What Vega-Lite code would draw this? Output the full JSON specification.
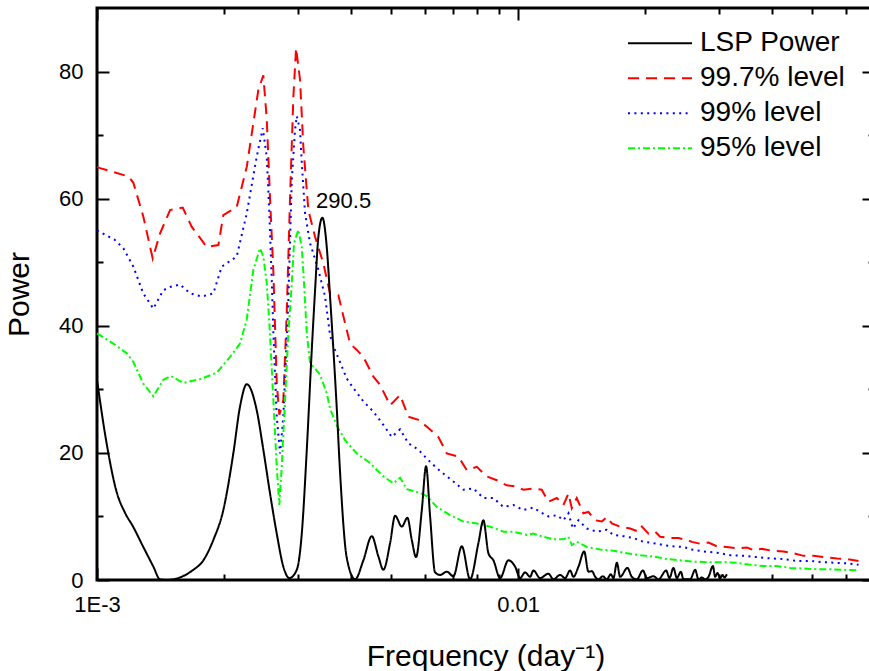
{
"$schema": "https://vega.github.io/schema/vega-lite/v6.json",
"width": 777, "height": 572,
"autosize": {"type": "none"},
"padding": {"left": 97, "top": 8, "right": -5, "bottom": 91},
"background": "white",
"config": {
  "font": "Liberation Sans",
  "view": {"stroke": "black", "strokeWidth": 3},
  "axis": {"grid": false, "domain": false, "zindex": 1, "tickColor": "black", "tickWidth": 2, "labelColor": "black", "titleColor": "black", "labelFont": "Liberation Sans", "titleFont": "Liberation Sans", "titleFontWeight": "normal", "labelOverlap": false, "labelFlush": false},
  "text": {"font": "Liberation Sans"}
},
"data": {"values": [
{"series":"LSP Power","freq":0.001,"power":31.5},
{"series":"LSP Power","freq":0.001054,"power":21.5},
{"series":"LSP Power","freq":0.001114,"power":13.8},
{"series":"LSP Power","freq":0.001165,"power":10.6},
{"series":"LSP Power","freq":0.001218,"power":8.4},
{"series":"LSP Power","freq":0.001288,"power":5.2},
{"series":"LSP Power","freq":0.001361,"power":2.1},
{"series":"LSP Power","freq":0.001411,"power":0.1},
{"series":"LSP Power","freq":0.001464,"power":0},
{"series":"LSP Power","freq":0.001693,"power":1.6},
{"series":"LSP Power","freq":0.001789,"power":3.1},
{"series":"LSP Power","freq":0.001889,"power":6.3},
{"series":"LSP Power","freq":0.001995,"power":11.0},
{"series":"LSP Power","freq":0.002107,"power":19.9},
{"series":"LSP Power","freq":0.002186,"power":27.3},
{"series":"LSP Power","freq":0.002268,"power":30.8},
{"series":"LSP Power","freq":0.002395,"power":26.7},
{"series":"LSP Power","freq":0.002483,"power":20.5},
{"series":"LSP Power","freq":0.002576,"power":13.6},
{"series":"LSP Power","freq":0.002672,"power":7.3},
{"series":"LSP Power","freq":0.00277,"power":2.1},
{"series":"LSP Power","freq":0.002863,"power":0.3},
{"series":"LSP Power","freq":0.002981,"power":1.6},
{"series":"LSP Power","freq":0.003064,"power":7.3},
{"series":"LSP Power","freq":0.003149,"power":20.5},
{"series":"LSP Power","freq":0.003236,"power":36.2},
{"series":"LSP Power","freq":0.003295,"power":45.6},
{"series":"LSP Power","freq":0.003355,"power":54.0},
{"series":"LSP Power","freq":0.003429,"power":57.0},
{"series":"LSP Power","freq":0.003512,"power":52.4},
{"series":"LSP Power","freq":0.003576,"power":44.6},
{"series":"LSP Power","freq":0.00371,"power":27.0},
{"series":"LSP Power","freq":0.003777,"power":17.0},
{"series":"LSP Power","freq":0.003918,"power":3.5},
{"series":"LSP Power","freq":0.004101,"power":0.1},
{"series":"LSP Power","freq":0.004291,"power":3.1},
{"series":"LSP Power","freq":0.004493,"power":6.9},
{"series":"LSP Power","freq":0.004658,"power":3.7},
{"series":"LSP Power","freq":0.004787,"power":1.6},
{"series":"LSP Power","freq":0.004966,"power":5.8},
{"series":"LSP Power","freq":0.005103,"power":10.1},
{"series":"LSP Power","freq":0.005294,"power":8.4},
{"series":"LSP Power","freq":0.005459,"power":9.8},
{"series":"LSP Power","freq":0.005591,"power":6.3},
{"series":"LSP Power","freq":0.005724,"power":3.6},
{"series":"LSP Power","freq":0.005906,"power":11.0},
{"series":"LSP Power","freq":0.006046,"power":17.9},
{"series":"LSP Power","freq":0.00618,"power":10.0},
{"series":"LSP Power","freq":0.006351,"power":1.2},
{"series":"LSP Power","freq":0.006527,"power":0.8},
{"series":"LSP Power","freq":0.006771,"power":1.3},
{"series":"LSP Power","freq":0.00702,"power":0.6},
{"series":"LSP Power","freq":0.00735,"power":5.3},
{"series":"LSP Power","freq":0.007691,"power":0.1},
{"series":"LSP Power","freq":0.008048,"power":5.8},
{"series":"LSP Power","freq":0.008271,"power":9.4},
{"series":"LSP Power","freq":0.008501,"power":4.2},
{"series":"LSP Power","freq":0.008736,"power":3.1},
{"series":"LSP Power","freq":0.009062,"power":0.3},
{"series":"LSP Power","freq":0.009483,"power":3.1},
{"series":"LSP Power","freq":0.009837,"power":2.1},
{"series":"LSP Power","freq":0.01011,"power":0.3},
{"series":"LSP Power","freq":0.01039,"power":1.2},
{"series":"LSP Power","freq":0.01068,"power":0.5},
{"series":"LSP Power","freq":0.01087,"power":1.5},
{"series":"LSP Power","freq":0.01128,"power":0.3},
{"series":"LSP Power","freq":0.0118,"power":1.0},
{"series":"LSP Power","freq":0.01213,"power":0.1},
{"series":"LSP Power","freq":0.01258,"power":0.8},
{"series":"LSP Power","freq":0.01293,"power":0.3},
{"series":"LSP Power","freq":0.01329,"power":1.5},
{"series":"LSP Power","freq":0.01353,"power":0.5},
{"series":"LSP Power","freq":0.01391,"power":2.1},
{"series":"LSP Power","freq":0.01435,"power":4.5},
{"series":"LSP Power","freq":0.01469,"power":1.3},
{"series":"LSP Power","freq":0.01497,"power":1.4},
{"series":"LSP Power","freq":0.01524,"power":0.5},
{"series":"LSP Power","freq":0.01552,"power":0.1},
{"series":"LSP Power","freq":0.01589,"power":0.6},
{"series":"LSP Power","freq":0.01624,"power":0.1},
{"series":"LSP Power","freq":0.0166,"power":0.9},
{"series":"LSP Power","freq":0.01684,"power":0.3},
{"series":"LSP Power","freq":0.01716,"power":2.7},
{"series":"LSP Power","freq":0.01747,"power":0.5},
{"series":"LSP Power","freq":0.01818,"power":1.9},
{"series":"LSP Power","freq":0.01862,"power":0.5},
{"series":"LSP Power","freq":0.01914,"power":0.1},
{"series":"LSP Power","freq":0.01978,"power":1.5},
{"series":"LSP Power","freq":0.02022,"power":0.3},
{"series":"LSP Power","freq":0.02096,"power":0.6},
{"series":"LSP Power","freq":0.02154,"power":0.1},
{"series":"LSP Power","freq":0.02247,"power":1.5},
{"series":"LSP Power","freq":0.02288,"power":0.3},
{"series":"LSP Power","freq":0.02338,"power":1.9},
{"series":"LSP Power","freq":0.02382,"power":0.3},
{"series":"LSP Power","freq":0.02435,"power":1.3},
{"series":"LSP Power","freq":0.0247,"power":0.1},
{"series":"LSP Power","freq":0.02562,"power":0.1},
{"series":"LSP Power","freq":0.02633,"power":1.6},
{"series":"LSP Power","freq":0.02681,"power":0.1},
{"series":"LSP Power","freq":0.02731,"power":0.4},
{"series":"LSP Power","freq":0.02781,"power":0.1},
{"series":"LSP Power","freq":0.02832,"power":0.5},
{"series":"LSP Power","freq":0.02901,"power":2.2},
{"series":"LSP Power","freq":0.02937,"power":0.5},
{"series":"LSP Power","freq":0.02974,"power":1.1},
{"series":"LSP Power","freq":0.03019,"power":0.3},
{"series":"LSP Power","freq":0.03057,"power":0.8},
{"series":"LSP Power","freq":0.0309,"power":0.4},
{"series":"LSP Power","freq":0.03131,"power":0.9},
{"series":"99.7% level","freq":0.001,"power":65.0},
{"series":"99.7% level","freq":0.001017,"power":64.8},
{"series":"99.7% level","freq":0.001187,"power":63.5},
{"series":"99.7% level","freq":0.00122,"power":62.5},
{"series":"99.7% level","freq":0.001288,"power":57.2},
{"series":"99.7% level","freq":0.001356,"power":50.6},
{"series":"99.7% level","freq":0.001411,"power":54.5},
{"series":"99.7% level","freq":0.001491,"power":58.2},
{"series":"99.7% level","freq":0.001598,"power":58.6},
{"series":"99.7% level","freq":0.001678,"power":55.6},
{"series":"99.7% level","freq":0.001822,"power":52.4},
{"series":"99.7% level","freq":0.001942,"power":52.7},
{"series":"99.7% level","freq":0.001995,"power":57.4},
{"series":"99.7% level","freq":0.002147,"power":58.7},
{"series":"99.7% level","freq":0.002268,"power":65.0},
{"series":"99.7% level","freq":0.002416,"power":77.1},
{"series":"99.7% level","freq":0.002483,"power":79.4},
{"series":"99.7% level","freq":0.00253,"power":72.5},
{"series":"99.7% level","freq":0.002576,"power":60.0},
{"series":"99.7% level","freq":0.002623,"power":48.5},
{"series":"99.7% level","freq":0.002672,"power":31.0},
{"series":"99.7% level","freq":0.00271,"power":26.0},
{"series":"99.7% level","freq":0.00277,"power":28.3},
{"series":"99.7% level","freq":0.002822,"power":42.0},
{"series":"99.7% level","freq":0.002874,"power":60.3},
{"series":"99.7% level","freq":0.002926,"power":76.0},
{"series":"99.7% level","freq":0.00297,"power":83.7},
{"series":"99.7% level","freq":0.003035,"power":78.7},
{"series":"99.7% level","freq":0.00309,"power":68.2},
{"series":"99.7% level","freq":0.003176,"power":58.2},
{"series":"99.7% level","freq":0.003295,"power":54.0},
{"series":"99.7% level","freq":0.003448,"power":49.8},
{"series":"99.7% level","freq":0.003576,"power":45.1},
{"series":"99.7% level","freq":0.003743,"power":44.8},
{"series":"99.7% level","freq":0.003882,"power":40.4},
{"series":"99.7% level","freq":0.00399,"power":37.2},
{"series":"99.7% level","freq":0.004139,"power":36.2},
{"series":"99.7% level","freq":0.004291,"power":35.1},
{"series":"99.7% level","freq":0.004532,"power":32.0},
{"series":"99.7% level","freq":0.004701,"power":30.7},
{"series":"99.7% level","freq":0.004966,"power":27.5},
{"series":"99.7% level","freq":0.005244,"power":29.1},
{"series":"99.7% level","freq":0.005488,"power":25.7},
{"series":"99.7% level","freq":0.005797,"power":25.2},
{"series":"99.7% level","freq":0.006123,"power":23.9},
{"series":"99.7% level","freq":0.006467,"power":22.5},
{"series":"99.7% level","freq":0.006771,"power":19.9},
{"series":"99.7% level","freq":0.007214,"power":19.4},
{"series":"99.7% level","freq":0.007553,"power":17.3},
{"series":"99.7% level","freq":0.007978,"power":17.8},
{"series":"99.7% level","freq":0.008427,"power":16.3},
{"series":"99.7% level","freq":0.0089,"power":15.7},
{"series":"99.7% level","freq":0.0094,"power":14.9},
{"series":"99.7% level","freq":0.009929,"power":14.7},
{"series":"99.7% level","freq":0.01029,"power":14.2},
{"series":"99.7% level","freq":0.01087,"power":14.4},
{"series":"99.7% level","freq":0.01138,"power":14.2},
{"series":"99.7% level","freq":0.0118,"power":12.3},
{"series":"99.7% level","freq":0.01236,"power":12.9},
{"series":"99.7% level","freq":0.01281,"power":11.8},
{"series":"99.7% level","freq":0.01317,"power":13.6},
{"series":"99.7% level","freq":0.01341,"power":11.3},
{"series":"99.7% level","freq":0.01378,"power":12.9},
{"series":"99.7% level","freq":0.01429,"power":10.5},
{"series":"99.7% level","freq":0.01469,"power":10.7},
{"series":"99.7% level","freq":0.01524,"power":9.4},
{"series":"99.7% level","freq":0.01581,"power":9.2},
{"series":"99.7% level","freq":0.01624,"power":9.9},
{"series":"99.7% level","freq":0.01669,"power":8.9},
{"series":"99.7% level","freq":0.01747,"power":8.4},
{"series":"99.7% level","freq":0.01845,"power":8.1},
{"series":"99.7% level","freq":0.01931,"power":7.6},
{"series":"99.7% level","freq":0.01967,"power":8.4},
{"series":"99.7% level","freq":0.0204,"power":7.3},
{"series":"99.7% level","freq":0.02116,"power":7.6},
{"series":"99.7% level","freq":0.02174,"power":6.8},
{"series":"99.7% level","freq":0.02296,"power":6.6},
{"series":"99.7% level","freq":0.02403,"power":6.6},
{"series":"99.7% level","freq":0.02516,"power":6.3},
{"series":"99.7% level","freq":0.02586,"power":6.0},
{"series":"99.7% level","freq":0.02706,"power":5.7},
{"series":"99.7% level","freq":0.02832,"power":5.9},
{"series":"99.7% level","freq":0.02965,"power":5.3},
{"series":"99.7% level","freq":0.03131,"power":5.2},
{"series":"99.7% level","freq":0.03308,"power":5.0},
{"series":"99.7% level","freq":0.03493,"power":5.1},
{"series":"99.7% level","freq":0.03622,"power":4.7},
{"series":"99.7% level","freq":0.03792,"power":4.9},
{"series":"99.7% level","freq":0.04005,"power":4.6},
{"series":"99.7% level","freq":0.04267,"power":4.5},
{"series":"99.7% level","freq":0.04507,"power":4.2},
{"series":"99.7% level","freq":0.04761,"power":3.8},
{"series":"99.7% level","freq":0.05028,"power":3.8},
{"series":"99.7% level","freq":0.05311,"power":3.6},
{"series":"99.7% level","freq":0.05715,"power":3.4},
{"series":"99.7% level","freq":0.06036,"power":3.3},
{"series":"99.7% level","freq":0.06432,"power":3.0},
{"series":"99% level","freq":0.001,"power":55.0},
{"series":"99% level","freq":0.001103,"power":53.5},
{"series":"99% level","freq":0.001155,"power":52.2},
{"series":"99% level","freq":0.00122,"power":49.3},
{"series":"99% level","freq":0.001288,"power":45.1},
{"series":"99% level","freq":0.001361,"power":42.7},
{"series":"99% level","freq":0.001437,"power":45.6},
{"series":"99% level","freq":0.001491,"power":46.1},
{"series":"99% level","freq":0.001575,"power":46.5},
{"series":"99% level","freq":0.001663,"power":45.1},
{"series":"99% level","freq":0.001773,"power":44.6},
{"series":"99% level","freq":0.001889,"power":45.1},
{"series":"99% level","freq":0.001978,"power":49.3},
{"series":"99% level","freq":0.002147,"power":50.9},
{"series":"99% level","freq":0.002268,"power":57.7},
{"series":"99% level","freq":0.002395,"power":66.6},
{"series":"99% level","freq":0.002475,"power":71.1},
{"series":"99% level","freq":0.00253,"power":66.6},
{"series":"99% level","freq":0.002566,"power":57.7},
{"series":"99% level","freq":0.0026,"power":47.2},
{"series":"99% level","freq":0.002623,"power":38.8},
{"series":"99% level","freq":0.002672,"power":25.7},
{"series":"99% level","freq":0.002721,"power":19.9},
{"series":"99% level","freq":0.00277,"power":25.7},
{"series":"99% level","freq":0.002847,"power":44.0},
{"series":"99% level","freq":0.002901,"power":62.9},
{"series":"99% level","freq":0.002953,"power":70.8},
{"series":"99% level","freq":0.002981,"power":73.0},
{"series":"99% level","freq":0.003035,"power":70.8},
{"series":"99% level","freq":0.003064,"power":65.6},
{"series":"99% level","freq":0.003119,"power":57.7},
{"series":"99% level","freq":0.003206,"power":53.0},
{"series":"99% level","freq":0.003355,"power":48.8},
{"series":"99% level","freq":0.00348,"power":44.6},
{"series":"99% level","freq":0.003576,"power":38.5},
{"series":"99% level","freq":0.003675,"power":36.2},
{"series":"99% level","freq":0.003813,"power":33.6},
{"series":"99% level","freq":0.003918,"power":31.7},
{"series":"99% level","freq":0.004062,"power":30.2},
{"series":"99% level","freq":0.004291,"power":28.1},
{"series":"99% level","freq":0.004532,"power":26.5},
{"series":"99% level","freq":0.004787,"power":24.4},
{"series":"99% level","freq":0.005012,"power":22.5},
{"series":"99% level","freq":0.005244,"power":23.7},
{"series":"99% level","freq":0.005488,"power":21.5},
{"series":"99% level","freq":0.005797,"power":20.5},
{"series":"99% level","freq":0.00607,"power":19.1},
{"series":"99% level","freq":0.006411,"power":17.6},
{"series":"99% level","freq":0.006771,"power":16.3},
{"series":"99% level","freq":0.00702,"power":15.5},
{"series":"99% level","freq":0.007415,"power":14.2},
{"series":"99% level","freq":0.007832,"power":14.4},
{"series":"99% level","freq":0.008271,"power":12.9},
{"series":"99% level","freq":0.008736,"power":12.9},
{"series":"99% level","freq":0.009228,"power":11.5},
{"series":"99% level","freq":0.009746,"power":11.8},
{"series":"99% level","freq":0.01029,"power":11.0},
{"series":"99% level","freq":0.01087,"power":11.4},
{"series":"99% level","freq":0.01128,"power":10.7},
{"series":"99% level","freq":0.0118,"power":10.0},
{"series":"99% level","freq":0.01236,"power":10.2},
{"series":"99% level","freq":0.01281,"power":9.4},
{"series":"99% level","freq":0.01317,"power":10.5},
{"series":"99% level","freq":0.01349,"power":8.1},
{"series":"99% level","freq":0.01391,"power":9.4},
{"series":"99% level","freq":0.01456,"power":8.1},
{"series":"99% level","freq":0.01538,"power":7.6},
{"series":"99% level","freq":0.01624,"power":7.9},
{"series":"99% level","freq":0.01684,"power":7.1},
{"series":"99% level","freq":0.01779,"power":6.9},
{"series":"99% level","freq":0.01879,"power":6.6},
{"series":"99% level","freq":0.01985,"power":6.0},
{"series":"99% level","freq":0.02096,"power":5.8},
{"series":"99% level","freq":0.02214,"power":5.5},
{"series":"99% level","freq":0.02338,"power":5.3},
{"series":"99% level","freq":0.0247,"power":5.2},
{"series":"99% level","freq":0.02586,"power":4.8},
{"series":"99% level","freq":0.02755,"power":4.5},
{"series":"99% level","freq":0.02965,"power":4.3},
{"series":"99% level","freq":0.03189,"power":3.9},
{"series":"99% level","freq":0.03429,"power":3.8},
{"series":"99% level","freq":0.0369,"power":3.6},
{"series":"99% level","freq":0.03968,"power":3.4},
{"series":"99% level","freq":0.04267,"power":3.3},
{"series":"99% level","freq":0.04592,"power":3.0},
{"series":"99% level","freq":0.04938,"power":3.0},
{"series":"99% level","freq":0.05311,"power":2.8},
{"series":"99% level","freq":0.05715,"power":2.7},
{"series":"99% level","freq":0.06089,"power":2.6},
{"series":"99% level","freq":0.06432,"power":2.4},
{"series":"95% level","freq":0.001,"power":38.8},
{"series":"95% level","freq":0.001093,"power":37.2},
{"series":"95% level","freq":0.001176,"power":35.7},
{"series":"95% level","freq":0.00122,"power":34.3},
{"series":"95% level","freq":0.001288,"power":30.9},
{"series":"95% level","freq":0.001361,"power":28.9},
{"series":"95% level","freq":0.001437,"power":31.5},
{"series":"95% level","freq":0.001497,"power":32.1},
{"series":"95% level","freq":0.001603,"power":31.0},
{"series":"95% level","freq":0.001756,"power":31.6},
{"series":"95% level","freq":0.001924,"power":32.6},
{"series":"95% level","freq":0.00207,"power":35.1},
{"series":"95% level","freq":0.002186,"power":37.2},
{"series":"95% level","freq":0.002268,"power":41.0},
{"series":"95% level","freq":0.002351,"power":48.8},
{"series":"95% level","freq":0.002439,"power":52.2},
{"series":"95% level","freq":0.002483,"power":50.9},
{"series":"95% level","freq":0.00253,"power":46.7},
{"series":"95% level","freq":0.002566,"power":40.5},
{"series":"95% level","freq":0.002623,"power":28.3},
{"series":"95% level","freq":0.002672,"power":17.8},
{"series":"95% level","freq":0.00271,"power":11.8},
{"series":"95% level","freq":0.002746,"power":17.8},
{"series":"95% level","freq":0.002796,"power":28.3},
{"series":"95% level","freq":0.002847,"power":38.8},
{"series":"95% level","freq":0.002901,"power":46.7},
{"series":"95% level","freq":0.002937,"power":53.0},
{"series":"95% level","freq":0.003007,"power":55.1},
{"series":"95% level","freq":0.003064,"power":52.4},
{"series":"95% level","freq":0.003102,"power":46.7},
{"series":"95% level","freq":0.003149,"power":38.8},
{"series":"95% level","freq":0.003206,"power":34.1},
{"series":"95% level","freq":0.003295,"power":33.3},
{"series":"95% level","freq":0.003386,"power":32.3},
{"series":"95% level","freq":0.003512,"power":29.4},
{"series":"95% level","freq":0.003576,"power":27.0},
{"series":"95% level","freq":0.00371,"power":24.3},
{"series":"95% level","freq":0.003882,"power":22.0},
{"series":"95% level","freq":0.004139,"power":19.9},
{"series":"95% level","freq":0.004451,"power":18.4},
{"series":"95% level","freq":0.004787,"power":16.3},
{"series":"95% level","freq":0.005056,"power":15.2},
{"series":"95% level","freq":0.005244,"power":16.1},
{"series":"95% level","freq":0.005441,"power":14.3},
{"series":"95% level","freq":0.005851,"power":13.7},
{"series":"95% level","freq":0.00607,"power":13.2},
{"series":"95% level","freq":0.006411,"power":11.5},
{"series":"95% level","freq":0.006894,"power":10.2},
{"series":"95% level","freq":0.007415,"power":9.2},
{"series":"95% level","freq":0.007978,"power":8.9},
{"series":"95% level","freq":0.00858,"power":8.4},
{"series":"95% level","freq":0.009228,"power":7.6},
{"series":"95% level","freq":0.009746,"power":7.6},
{"series":"95% level","freq":0.01049,"power":7.1},
{"series":"95% level","freq":0.01087,"power":7.3},
{"series":"95% level","freq":0.01148,"power":6.8},
{"series":"95% level","freq":0.01213,"power":6.4},
{"series":"95% level","freq":0.01281,"power":6.4},
{"series":"95% level","freq":0.01317,"power":6.8},
{"series":"95% level","freq":0.01341,"power":5.5},
{"series":"95% level","freq":0.01378,"power":6.0},
{"series":"95% level","freq":0.01456,"power":5.2},
{"series":"95% level","freq":0.01566,"power":4.8},
{"series":"95% level","freq":0.01684,"power":4.6},
{"series":"95% level","freq":0.01812,"power":4.2},
{"series":"95% level","freq":0.01949,"power":3.9},
{"series":"95% level","freq":0.02096,"power":3.7},
{"series":"95% level","freq":0.02255,"power":3.3},
{"series":"95% level","freq":0.02425,"power":3.1},
{"series":"95% level","freq":0.02608,"power":2.9},
{"series":"95% level","freq":0.02807,"power":2.8},
{"series":"95% level","freq":0.03074,"power":2.8},
{"series":"95% level","freq":0.03308,"power":2.7},
{"series":"95% level","freq":0.03557,"power":2.4},
{"series":"95% level","freq":0.03825,"power":2.2},
{"series":"95% level","freq":0.04116,"power":2.2},
{"series":"95% level","freq":0.04427,"power":1.9},
{"series":"95% level","freq":0.04761,"power":1.8},
{"series":"95% level","freq":0.05123,"power":1.7},
{"series":"95% level","freq":0.05509,"power":1.7},
{"series":"95% level","freq":0.05925,"power":1.6},
{"series":"95% level","freq":0.06432,"power":1.5}
]},
"resolve": {"axis": {"x": "independent", "y": "independent"}},
"layer": [
{
  "transform": [{"filter": "datum.series != 'LSP Power'"}],
  "mark": {"type": "line", "strokeWidth": 2, "interpolate": "linear"},
  "encoding": {
    "x": {"field": "freq", "type": "quantitative", "scale": {"type": "log", "domain": [0.001, 0.07]},
      "axis": {"orient": "bottom", "values": [0.001, 0.002, 0.003, 0.004, 0.005, 0.006, 0.007, 0.008, 0.009, 0.01, 0.02, 0.03, 0.04, 0.05, 0.06],
        "labelExpr": "datum.value == 0.001 ? '1E-3' : (datum.value == 0.01 ? '0.01' : '')",
        "tickColor": "black", "zindex": 1,
        "tickSize": {"condition": {"test": "datum.value == 0.001 || datum.value == 0.01", "value": -12}, "value": -6},
        "labelFontSize": 22, "labelPadding": 26, "title": "Frequency (day⁻¹)", "titleFontSize": 30, "titlePadding": 20}},
    "y": {"field": "power", "type": "quantitative", "scale": {"domain": [0, 90], "nice": false},
      "axis": {"orient": "left", "values": [0, 10, 20, 30, 40, 50, 60, 70, 80],
        "labelExpr": "datum.value % 20 == 0 ? datum.label : ''",
        "tickColor": "black", "zindex": 1,
        "tickSize": {"condition": {"test": "datum.value % 20 == 0", "value": -12}, "value": -6},
        "labelFontSize": 22, "labelPadding": 26, "title": "Power", "titleFontSize": 30, "titlePadding": 24}},
    "color": {"field": "series", "type": "nominal", "scale": {"domain": ["LSP Power", "99.7% level", "99% level", "95% level"], "range": ["#000000", "#ff0000", "#0000ff", "#00ff00"]},
      "legend": {"title": null, "orient": "none", "legendX": 530, "legendY": 18, "symbolType": "stroke", "symbolSize": 4096, "symbolStrokeWidth": 2, "labelFontSize": 28, "labelOffset": 7, "clipHeight": 34.4, "rowPadding": 0, "padding": 0, "labelColor": "black", "labelLimit": 0}},
    "strokeDash": {"field": "series", "type": "nominal", "scale": {"domain": ["LSP Power", "99.7% level", "99% level", "95% level"], "range": [[1, 0], [11, 7], [2, 4.4], [7, 3, 2, 3]]},
      "legend": {"title": null, "orient": "none", "legendX": 530, "legendY": 18, "symbolType": "stroke", "symbolSize": 4096, "symbolStrokeWidth": 2, "labelFontSize": 28, "labelOffset": 7, "clipHeight": 34.4, "rowPadding": 0, "padding": 0, "labelColor": "black", "labelLimit": 0}}
  }
},
{
  "transform": [{"filter": "datum.series == 'LSP Power'"}],
  "mark": {"type": "line", "strokeWidth": 2, "interpolate": "monotone"},
  "encoding": {
    "x": {"field": "freq", "type": "quantitative", "scale": {"type": "log", "domain": [0.001, 0.07]},
      "axis": {"orient": "top", "values": [0.001, 0.002, 0.003, 0.004, 0.005, 0.006, 0.007, 0.008, 0.009, 0.01, 0.02, 0.03, 0.04, 0.05, 0.06], "labels": false, "tickColor": "black", "zindex": 1,
        "tickSize": {"condition": {"test": "datum.value == 0.001 || datum.value == 0.01", "value": -12}, "value": -6}, "title": null}},
    "y": {"field": "power", "type": "quantitative", "scale": {"domain": [0, 90], "nice": false},
      "axis": {"orient": "right", "values": [0, 10, 20, 30, 40, 50, 60, 70, 80], "labels": false, "tickColor": "black", "zindex": 1,
        "tickSize": {"condition": {"test": "datum.value % 20 == 0", "value": -12}, "value": -6}, "title": null}},
    "color": {"field": "series", "type": "nominal", "scale": {"domain": ["LSP Power", "99.7% level", "99% level", "95% level"], "range": ["#000000", "#ff0000", "#0000ff", "#00ff00"]},
      "legend": {"title": null, "orient": "none", "legendX": 530, "legendY": 18, "symbolType": "stroke", "symbolSize": 4096, "symbolStrokeWidth": 2, "labelFontSize": 28, "labelOffset": 7, "clipHeight": 34.4, "rowPadding": 0, "padding": 0, "labelColor": "black", "labelLimit": 0}},
    "strokeDash": {"field": "series", "type": "nominal", "scale": {"domain": ["LSP Power", "99.7% level", "99% level", "95% level"], "range": [[1, 0], [11, 7], [2, 4.4], [7, 3, 2, 3]]},
      "legend": {"title": null, "orient": "none", "legendX": 530, "legendY": 18, "symbolType": "stroke", "symbolSize": 4096, "symbolStrokeWidth": 2, "labelFontSize": 28, "labelOffset": 7, "clipHeight": 34.4, "rowPadding": 0, "padding": 0, "labelColor": "black", "labelLimit": 0}}
  }
},
{
  "data": {"values": [{"freq": 0.003313, "power": 58.5, "label": "290.5"}]},
  "mark": {"type": "text", "align": "left", "baseline": "alphabetic", "fontSize": 22, "color": "black"},
  "encoding": {
    "x": {"field": "freq", "type": "quantitative", "scale": {"type": "log", "domain": [0.001, 0.07]}, "axis": null},
    "y": {"field": "power", "type": "quantitative", "scale": {"domain": [0, 90], "nice": false}, "axis": null},
    "text": {"field": "label"}
  }
}
]
}
